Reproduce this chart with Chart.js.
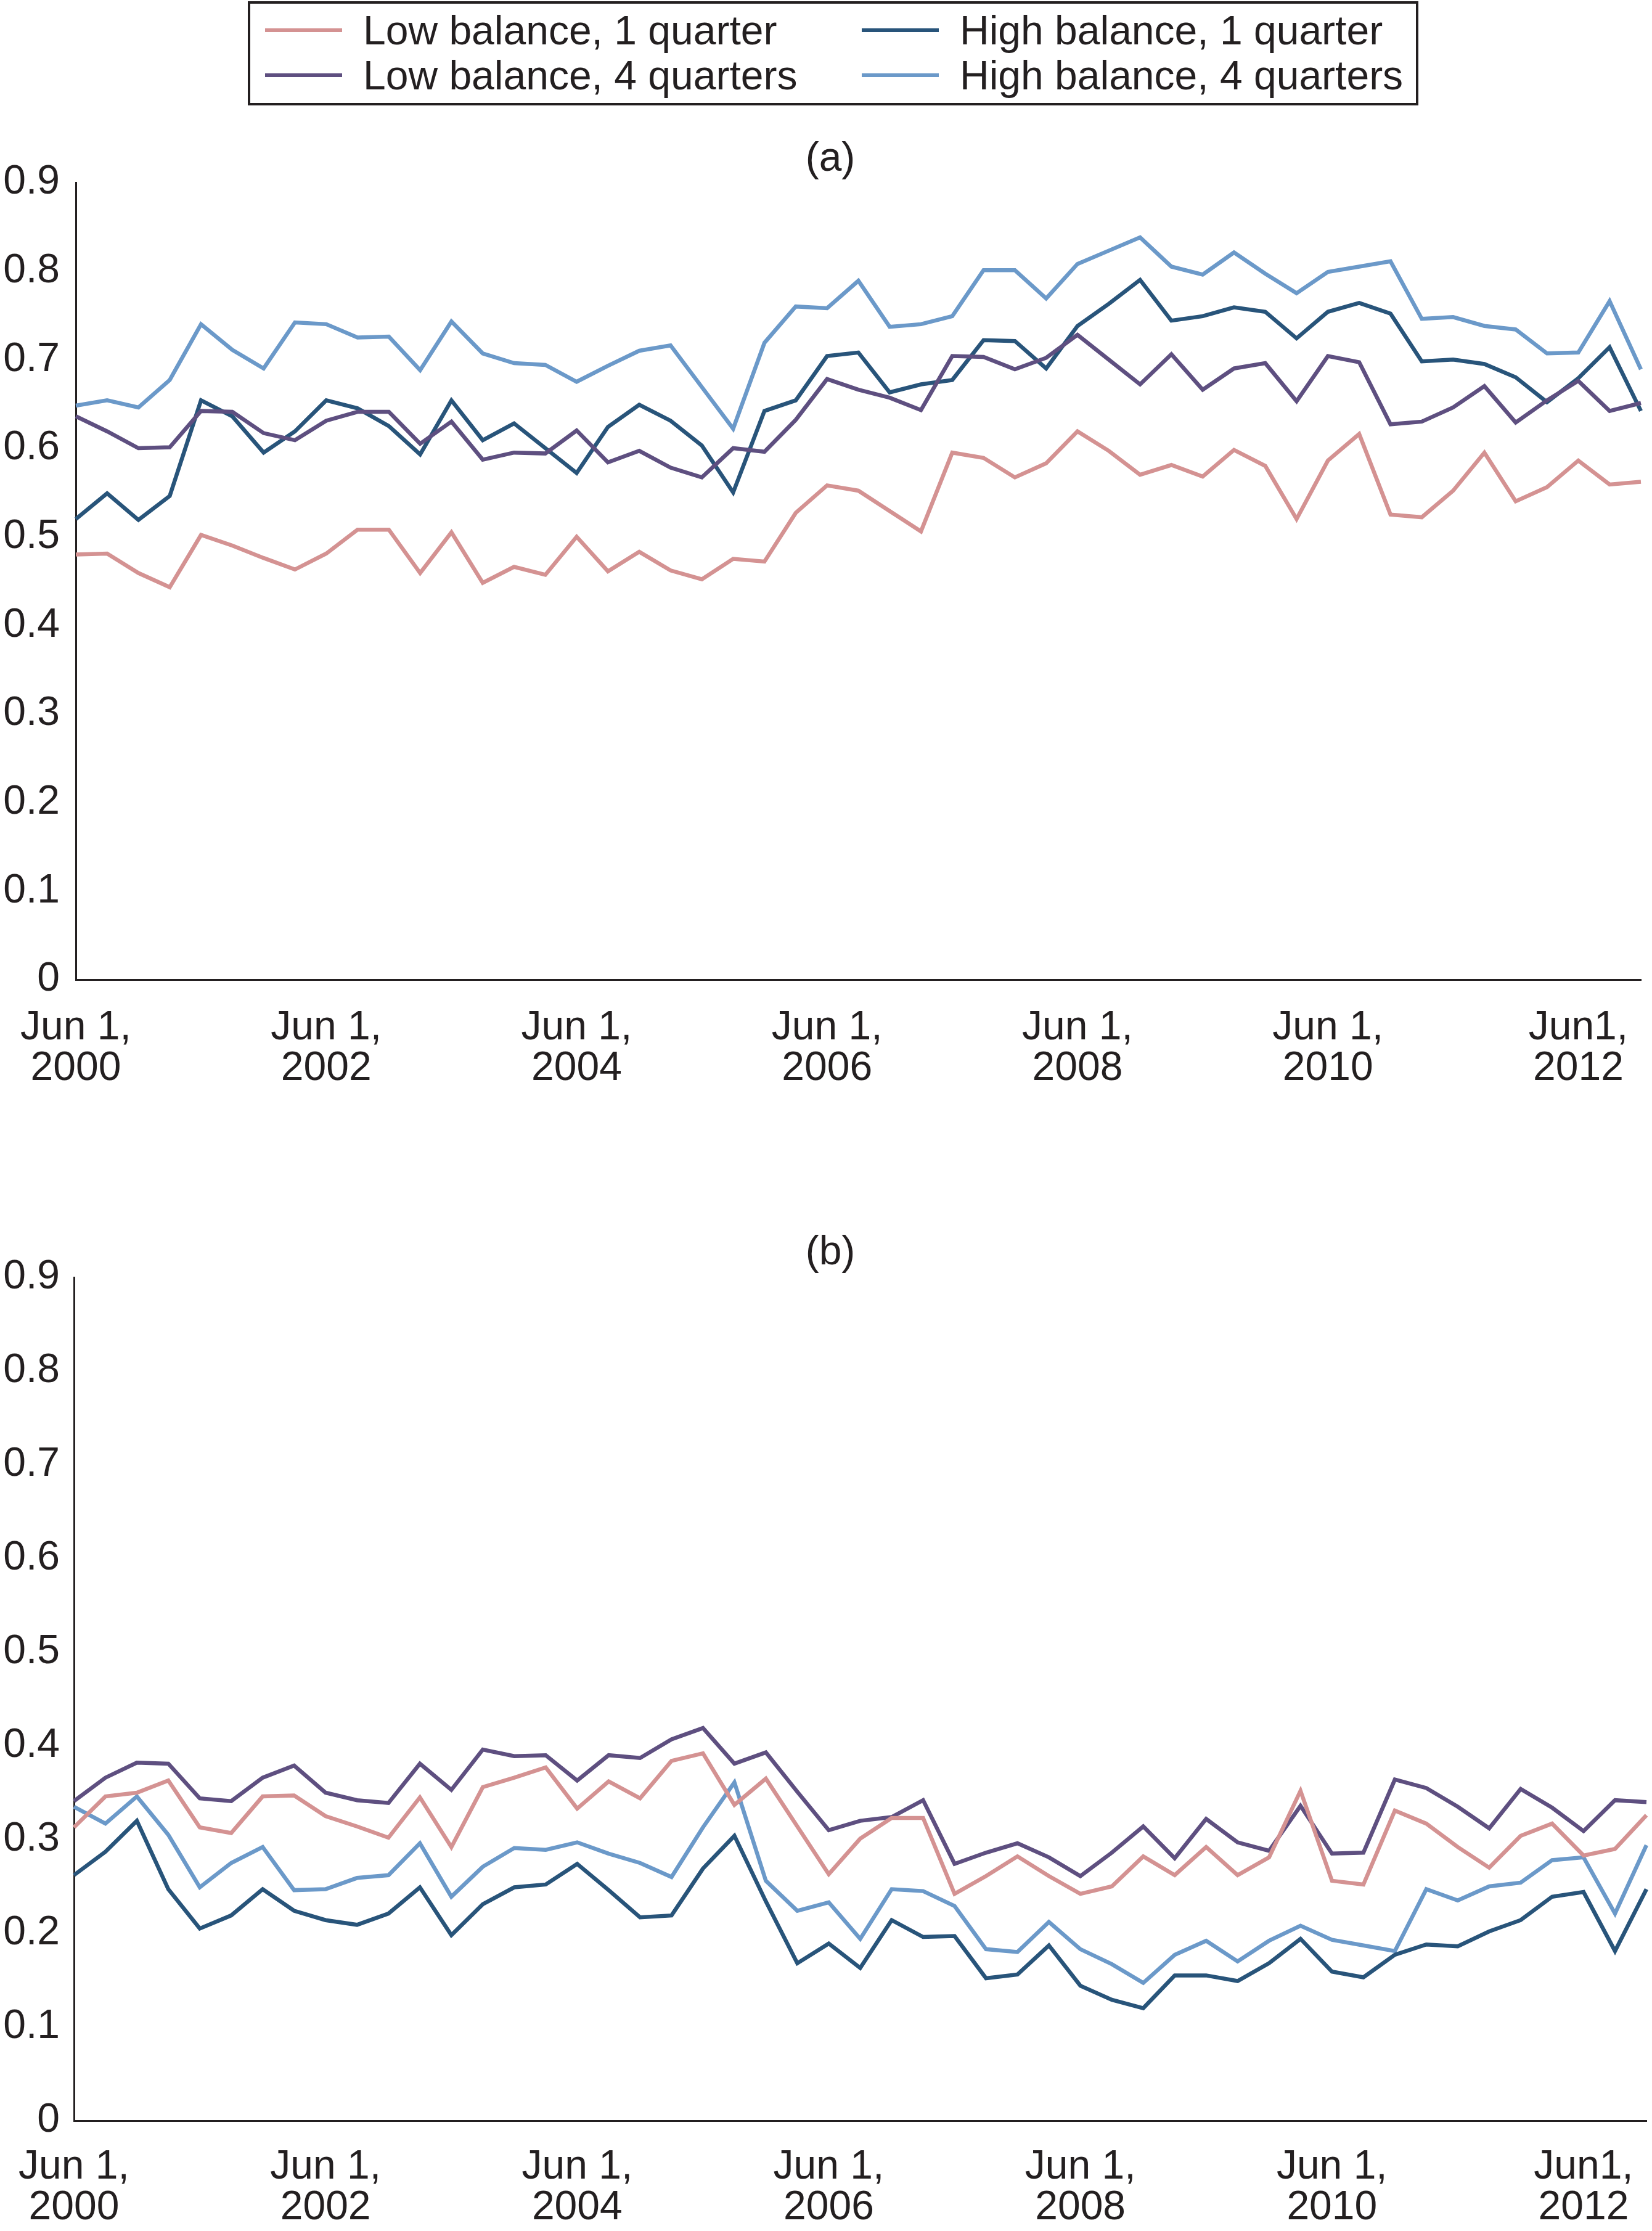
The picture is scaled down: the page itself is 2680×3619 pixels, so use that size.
<!DOCTYPE html>
<html>
<head>
<meta charset="utf-8">
<script src="https://cdn.jsdelivr.net/npm/chart.js@4.4.1/dist/chart.umd.min.js"></script>
<style>
    body { margin: 0; background: #fff; width: 2680px; height: 3619px; position: relative; overflow: hidden;
           font-family: "Liberation Sans", Arial, sans-serif; color: #231f20; }
    #legend { position: absolute; left: 402px; top: 2px; width: 1891px; height: 161px; border: 4px solid #231f20; }
    .item { position: absolute; display: flex; align-items: center; height: 72px; font-size: 66px; white-space: nowrap; }
    .item .sw { display: inline-block; width: 125px; height: 6px; margin-right: 34px; }
    .panel-title { position: absolute; left: 1247px; width: 200px; text-align: center; font-size: 66px; line-height: 76px; }
    canvas { position: absolute; left: 0; }
</style>
</head>
<body>
<div id="legend"></div>
<div class="panel-title" style="top:216px">(a)</div>
<div class="panel-title" style="top:1990px">(b)</div>
<canvas id="chartA" width="2680" height="1584" style="top:214px"></canvas>
<canvas id="chartB" width="2680" height="1631" style="top:1988px"></canvas>
<script>
// quarters, Jun 2000 .. Dec 2012
const quarters = [
    'Jun 2000','Sep 2000','Dec 2000','Mar 2001','Jun 2001','Sep 2001','Dec 2001','Mar 2002',
    'Jun 2002','Sep 2002','Dec 2002','Mar 2003','Jun 2003','Sep 2003','Dec 2003','Mar 2004',
    'Jun 2004','Sep 2004','Dec 2004','Mar 2005','Jun 2005','Sep 2005','Dec 2005','Mar 2006',
    'Jun 2006','Sep 2006','Dec 2006','Mar 2007','Jun 2007','Sep 2007','Dec 2007','Mar 2008',
    'Jun 2008','Sep 2008','Dec 2008','Mar 2009','Jun 2009','Sep 2009','Dec 2009','Mar 2010',
    'Jun 2010','Sep 2010','Dec 2010','Mar 2011','Jun 2011','Sep 2011','Dec 2011','Mar 2012',
    'Jun 2012','Sep 2012','Dec 2012'
];
// one label every 8 quarters
const xTickLabels = [
    ['Jun 1,', '2000'], ['Jun 1,', '2002'], ['Jun 1,', '2004'], ['Jun 1,', '2006'],
    ['Jun 1,', '2008'], ['Jun 1,', '2010'], ['Jun1,', '2012']
];
const seriesNames = ['Low balance, 1 quarter', 'Low balance, 4 quarters', 'High balance, 1 quarter', 'High balance, 4 quarters'];
const seriesColors = ['#d49292', '#5e4f80', '#28547a', '#6b99c9'];

// panel (a)
const lowBal1qA = [
    0.480, 0.481, 0.459, 0.443, 0.502, 0.490, 0.476, 0.463, 0.481, 0.508, 0.508, 0.459, 0.505,
    0.448, 0.466, 0.457, 0.500, 0.461, 0.483, 0.462, 0.452, 0.475, 0.472, 0.527, 0.558, 0.552,
    0.529, 0.506, 0.595, 0.589, 0.567, 0.583, 0.619, 0.597, 0.570, 0.581, 0.568, 0.598, 0.580,
    0.520, 0.586, 0.616, 0.525, 0.522, 0.552, 0.595, 0.540, 0.556, 0.586, 0.559, 0.562
];
const lowBal4qA = [
    0.636, 0.619, 0.600, 0.601, 0.642, 0.641, 0.617, 0.609, 0.631, 0.641, 0.641, 0.605, 0.630,
    0.587, 0.595, 0.594, 0.620, 0.584, 0.597, 0.578, 0.567, 0.600, 0.596, 0.632, 0.678, 0.666,
    0.657, 0.643, 0.704, 0.703, 0.689, 0.702, 0.728, 0.700, 0.672, 0.706, 0.666, 0.690, 0.696,
    0.653, 0.704, 0.697, 0.627, 0.630, 0.646, 0.670, 0.629, 0.654, 0.676, 0.642, 0.651
];
const highBal1qA = [
    0.520, 0.549, 0.519, 0.546, 0.654, 0.636, 0.595, 0.619, 0.654, 0.645, 0.625, 0.593, 0.654,
    0.609, 0.628, 0.600, 0.572, 0.624, 0.649, 0.631, 0.603, 0.550, 0.642, 0.654, 0.704, 0.708,
    0.663, 0.672, 0.677, 0.722, 0.721, 0.690, 0.738, 0.763, 0.790, 0.744, 0.749, 0.759, 0.754,
    0.724, 0.754, 0.764, 0.752, 0.698, 0.700, 0.695, 0.680, 0.652, 0.679, 0.714, 0.642
];
const highBal4qA = [
    0.648, 0.654, 0.646, 0.677, 0.740, 0.711, 0.690, 0.742, 0.740, 0.725, 0.726, 0.688, 0.743,
    0.707, 0.696, 0.694, 0.675, 0.693, 0.710, 0.716, 0.669, 0.622, 0.719, 0.760, 0.758, 0.789,
    0.737, 0.740, 0.749, 0.801, 0.801, 0.769, 0.808, 0.823, 0.838, 0.805, 0.796, 0.821, 0.797,
    0.775, 0.799, 0.805, 0.811, 0.746, 0.748, 0.738, 0.734, 0.707, 0.708, 0.766, 0.689
];

// panel (b)
const lowBal1qB = [
    0.313, 0.346, 0.350, 0.363, 0.313, 0.307, 0.346, 0.347, 0.325, 0.314, 0.302, 0.345, 0.292,
    0.356, 0.366, 0.377, 0.333, 0.362, 0.344, 0.384, 0.392, 0.337, 0.365, 0.314, 0.263, 0.301,
    0.323, 0.323, 0.242, 0.261, 0.282, 0.261, 0.242, 0.250, 0.282, 0.262, 0.292, 0.262, 0.281,
    0.352, 0.256, 0.252, 0.331, 0.317, 0.292, 0.270, 0.304, 0.317, 0.283, 0.290, 0.326
];
const lowBal4qB = [
    0.341, 0.366, 0.382, 0.381, 0.344, 0.341, 0.366, 0.379, 0.350, 0.342, 0.339, 0.381, 0.353,
    0.396, 0.389, 0.390, 0.363, 0.390, 0.387, 0.407, 0.419, 0.381, 0.393, 0.351, 0.310, 0.320,
    0.324, 0.342, 0.274, 0.286, 0.296, 0.281, 0.261, 0.286, 0.314, 0.280, 0.322, 0.297, 0.288,
    0.336, 0.285, 0.286, 0.364, 0.355, 0.335, 0.312, 0.354, 0.334, 0.309, 0.342, 0.340
];
const highBal1qB = [
    0.262, 0.287, 0.320, 0.247, 0.205, 0.219, 0.247, 0.224, 0.214, 0.209, 0.221, 0.249, 0.198,
    0.231, 0.249, 0.252, 0.274, 0.246, 0.217, 0.219, 0.269, 0.304, 0.234, 0.168, 0.189, 0.163,
    0.214, 0.196, 0.197, 0.152, 0.156, 0.187, 0.144, 0.129, 0.120, 0.155, 0.155, 0.149, 0.168,
    0.194, 0.159, 0.153, 0.177, 0.188, 0.186, 0.202, 0.214, 0.239, 0.244, 0.181, 0.247
];
const highBal4qB = [
    0.335, 0.317, 0.346, 0.305, 0.249, 0.275, 0.292, 0.246, 0.247, 0.259, 0.262, 0.296, 0.239,
    0.271, 0.291, 0.289, 0.297, 0.285, 0.275, 0.260, 0.313, 0.361, 0.256, 0.224, 0.233, 0.194,
    0.247, 0.245, 0.229, 0.183, 0.180, 0.212, 0.183, 0.167, 0.147, 0.177, 0.192, 0.170, 0.192,
    0.208, 0.193, 0.187, 0.181, 0.247, 0.235, 0.250, 0.254, 0.278, 0.281, 0.221, 0.294
];

const FONT = '"Liberation Sans", Arial, sans-serif';
const INK = '#231f20';

// legend, row by row: low 1q / high 1q, low 4q / high 4q
const legendSpots = [[24, 7], [24, 80], [992, 7], [992, 80]];
const legendBox = document.getElementById('legend');
seriesNames.forEach((name, i) => {
    const el = document.createElement('div');
    el.className = 'item';
    el.style.left = legendSpots[i][0] + 'px';
    el.style.top = legendSpots[i][1] + 'px';
    el.innerHTML = `<span class="sw" style="background:${seriesColors[i]}"></span>${name}`;
    legendBox.appendChild(el);
});

function makeChart(id, series, cfg) {
    const ctx = document.getElementById(id).getContext('2d');
    return new Chart(ctx, {
        type: 'line',
        data: {
            labels: quarters,
            datasets: series.map((vals, i) => ({
                label: seriesNames[i],
                data: vals,
                borderColor: seriesColors[i],
                borderWidth: 6.5,
                borderJoinStyle: 'miter',
                pointRadius: 0,
                tension: 0,
                fill: false
            }))
        },
        options: {
            responsive: false,
            animation: false,
            devicePixelRatio: 1,
            layout: { padding: { right: cfg.padRight, left: 0, top: cfg.padTop, bottom: 0 } },
            plugins: {
                legend: { display: false },
                tooltip: { enabled: false },
                title: { display: false }
            },
            scales: {
                x: {
                    type: 'category',
                    offset: false,
                    grid: { display: false, drawTicks: false },
                    border: { display: true, color: INK, width: 3 },
                    // pin the plot box: no extra room for edge labels
                    afterFit: s => { s.height = cfg.xHeight; s.paddingLeft = 0; s.paddingRight = 0; },
                    ticks: {
                        autoSkip: false, maxRotation: 0, minRotation: 0,
                        padding: cfg.xPad, color: INK,
                        font: { family: FONT, size: 66, lineHeight: 1.0 },
                        callback: (v, idx) => idx % 8 === 0 ? xTickLabels[idx / 8] : ''
                    }
                },
                y: {
                    min: 0, max: 0.9,
                    grid: { display: false, drawTicks: false },
                    border: { display: true, color: INK, width: 3 },
                    afterFit: s => { s.width = cfg.left; },
                    ticks: {
                        stepSize: 0.1, padding: cfg.yPad, color: INK,
                        font: { family: FONT, size: 66 },
                        callback: v => v === 0 ? '0' : v.toFixed(1)
                    }
                }
            }
        }
    });
}

makeChart('chartA', [lowBal1qA, lowBal4qA, highBal1qA, highBal4qA],
    { left: 123, padRight: 18, padTop: 82, xHeight: 209, xPad: 46, yPad: 26 });
makeChart('chartB', [lowBal1qB, lowBal4qB, highBal1qB, highBal4qB],
    { left: 120, padRight: 9, padTop: 84, xHeight: 179, xPad: 43, yPad: 23 });
</script>
</body>
</html>
